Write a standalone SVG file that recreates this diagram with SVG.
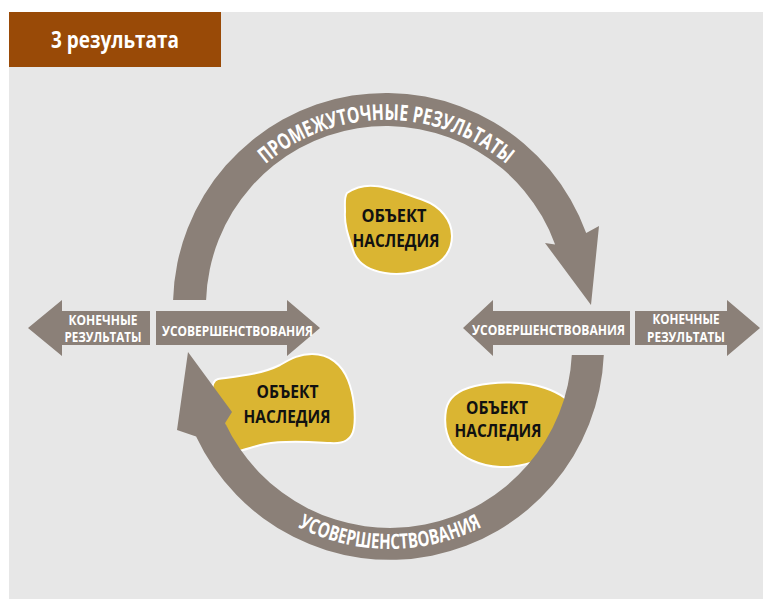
<svg xmlns="http://www.w3.org/2000/svg" width="763" height="599" viewBox="0 0 763 599">
<defs>
<style>
.arr{fill:#8b8078}
.blob{fill:#dab532;stroke:#fff;stroke-width:2}
.wt{fill:#fff;font-family:"Open Sans","Liberation Sans",sans-serif;font-weight:bold;text-anchor:middle}
.bt{fill:#111;font-family:"Open Sans","Liberation Sans",sans-serif;font-weight:bold;font-size:18px;text-anchor:middle}
</style>
<path id="tp1" d="M243.5,186.4 A186,186 0 0,1 528.5,186.4"/>
<path id="tp2" d="M273.6,512.3 A203,203 0 0,0 506.4,512.3"/>
</defs>
<rect x="0" y="0" width="763" height="599" fill="#ffffff"/>
<rect x="9" y="12" width="754" height="587" fill="#e7e7e7"/>
<g id="title">
<rect x="9" y="12" width="212" height="55" fill="#994a07"/>
<text class="wt" x="115" y="48" font-size="23" textLength="128" lengthAdjust="spacingAndGlyphs">3 результата</text>
</g>
<g id="blob-top">
<path class="blob" d="M347,193 C356,187 365,185 375,186 C390,187 405,194 423,200 C440,206 452,220 452,236 C452,250 444,262 430,267 C415,273 398,275 385,273 C372,271 358,266 353,250 C349,238 344,225 345,212 C345,203 344,197 347,193 Z"/>
<text class="bt" x="394" y="222" textLength="65" lengthAdjust="spacingAndGlyphs">ОБЪЕКТ</text>
<text class="bt" x="396" y="247" textLength="87" lengthAdjust="spacingAndGlyphs">НАСЛЕДИЯ</text>
</g>
<g id="blob-left">
<path class="blob" d="M218,379 C240,376 262,374 280,365 C292,358 300,354 312,354 C330,354 342,365 348,380 C354,395 356,415 354,428 C352,440 344,444 330,443 C310,442 285,440 265,444 C255,446 245,450 235,452 L212,392 C212,385 214,380 218,379 Z"/>
<text class="bt" x="287.5" y="398" textLength="62" lengthAdjust="spacingAndGlyphs">ОБЪЕКТ</text>
<text class="bt" x="287" y="423" textLength="87" lengthAdjust="spacingAndGlyphs">НАСЛЕДИЯ</text>
</g>
<g id="blob-right">
<path class="blob" d="M446,410 C448,398 458,390 475,386 C495,381 525,381 545,388 C560,393 572,402 578,412 L560,448 C545,460 520,468 500,467 C480,466 462,458 452,445 C446,435 444,422 446,410 Z"/>
<text class="bt" x="497" y="414" textLength="62" lengthAdjust="spacingAndGlyphs">ОБЪЕКТ</text>
<text class="bt" x="498" y="437" textLength="87" lengthAdjust="spacingAndGlyphs">НАСЛЕДИЯ</text>
</g>
<g id="connectors">
<path class="arr" d="M173.1,300 A213,213 0 0,1 586.2,233.1 L599,226 L591,305 L545,243 L555.1,244.4 A180,180 0 0,0 206.1,300 Z"/>
<path class="arr" d="M603.8,355 A214,214 0 0,1 196.1,436.4 L177,430 L188,352 L232,412 L225.1,422.9 A182,182 0 0,0 571.8,355 Z"/>
<text class="wt" font-size="22"><textPath href="#tp1" startOffset="50%" textLength="262" lengthAdjust="spacingAndGlyphs">ПРОМЕЖУТОЧНЫЕ РЕЗУЛЬТАТЫ</textPath></text>
<text class="wt" font-size="21"><textPath href="#tp2" startOffset="50%" textLength="191" lengthAdjust="spacingAndGlyphs">УСОВЕРШЕНСТВОВАНИЯ</textPath></text>
</g>
<g id="arrow-left-final">
<polygon class="arr" points="28,328 62,300 62,311 150,311 150,345 62,345 62,356"/>
<text class="wt" x="103" y="325" font-size="13.5" textLength="69" lengthAdjust="spacingAndGlyphs">КОНЕЧНЫЕ</text>
<text class="wt" x="103" y="342" font-size="13.5" textLength="77" lengthAdjust="spacingAndGlyphs">РЕЗУЛЬТАТЫ</text>
</g>
<g id="arrow-left-improve">
<polygon class="arr" points="156,311 287,311 287,300 320,328 287,356 287,345 156,345"/>
<text class="wt" x="237.5" y="335.5" font-size="14" textLength="151" lengthAdjust="spacingAndGlyphs">УСОВЕРШЕНСТВОВАНИЯ</text>
</g>
<g id="arrow-right-improve">
<polygon class="arr" points="463,328 493,300 493,311 630,311 630,345 493,345 493,356"/>
<text class="wt" x="548.5" y="335" font-size="14" textLength="153" lengthAdjust="spacingAndGlyphs">УСОВЕРШЕНСТВОВАНИЯ</text>
</g>
<g id="arrow-right-final">
<polygon class="arr" points="635,311 727,311 727,300 760,328 727,356 727,345 635,345"/>
<text class="wt" x="686" y="324" font-size="13.5" textLength="67" lengthAdjust="spacingAndGlyphs">КОНЕЧНЫЕ</text>
<text class="wt" x="686" y="342" font-size="13.5" textLength="78" lengthAdjust="spacingAndGlyphs">РЕЗУЛЬТАТЫ</text>
</g>
</svg>
